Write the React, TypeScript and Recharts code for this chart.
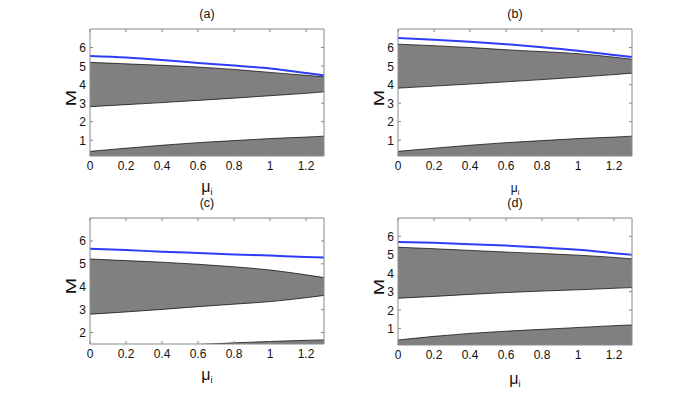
import React from 'react';
import { ComposedChart, Area, Line, XAxis, YAxis } from 'recharts';

// sample points along mu_i
const MU = [0, 0.2, 0.4, 0.6, 0.8, 1.0, 1.2, 1.3];
const X_TICKS = [0, 0.2, 0.4, 0.6, 0.8, 1, 1.2];

// panel (a)
const A_BLUE = [5.54, 5.46, 5.33, 5.17, 5.03, 4.87, 4.63, 4.5];
const A_TOP = [5.2, 5.12, 5.04, 4.95, 4.82, 4.66, 4.5, 4.42];
const A_BOT = [2.81, 2.92, 3.03, 3.15, 3.27, 3.4, 3.53, 3.61];
const A_LOW = [0.4, 0.57, 0.73, 0.87, 0.98, 1.09, 1.17, 1.22];

// panel (b)
const B_BLUE = [6.51, 6.42, 6.31, 6.18, 6.02, 5.83, 5.6, 5.49];
const B_TOP = [6.18, 6.1, 6.0, 5.88, 5.78, 5.67, 5.48, 5.37];
const B_BOT = [3.81, 3.92, 4.03, 4.15, 4.27, 4.4, 4.54, 4.62];
const B_LOW = [0.4, 0.57, 0.73, 0.87, 0.98, 1.09, 1.17, 1.22];

// panel (c)
const C_BLUE = [5.66, 5.6, 5.53, 5.47, 5.41, 5.36, 5.3, 5.28];
const C_TOP = [5.21, 5.14, 5.07, 4.98, 4.87, 4.73, 4.52, 4.4];
const C_BOT = [2.8, 2.9, 3.01, 3.13, 3.24, 3.35, 3.52, 3.62];
const C_LOW = [1.22, 1.32, 1.41, 1.48, 1.55, 1.61, 1.66, 1.68];

// panel (d)
const D_BLUE = [5.7, 5.65, 5.58, 5.5, 5.4, 5.27, 5.09, 5.0];
const D_TOP = [5.41, 5.33, 5.24, 5.15, 5.07, 4.98, 4.86, 4.78];
const D_BOT = [2.64, 2.74, 2.85, 2.95, 3.03, 3.1, 3.18, 3.22];
const D_LOW = [0.37, 0.57, 0.73, 0.85, 0.95, 1.05, 1.15, 1.19];

const Y_TICKS_FULL = [1, 2, 3, 4, 5, 6];
const Y_TICKS_C = [2, 3, 4, 5, 6];

const BOX = '#8a8a8a';
const FONT = '"Liberation Sans", Arial, sans-serif';

const BottomTick = ({ x, y, payload }: any) => (
  <g>
    <line x1={x} y1={y} x2={x} y2={y - 3} stroke={BOX} />
    <text x={x} y={y + 14} textAnchor="middle" fontSize={12} fill="#111" fontFamily={FONT}>
      {payload.value}
    </text>
  </g>
);

const TopTick = ({ x, y }: any) => <line x1={x} y1={y} x2={x} y2={y + 3} stroke={BOX} />;

const LeftTick = ({ x, y, payload }: any) => (
  <g>
    <line x1={x} y1={y} x2={x + 3} y2={y} stroke={BOX} />
    <text x={x - 4} y={y + 4.5} textAnchor="end" fontSize={12} fill="#111" fontFamily={FONT}>
      {payload.value}
    </text>
  </g>
);

const RightTick = ({ x, y }: any) => <line x1={x} y1={y} x2={x - 3} y2={y} stroke={BOX} />;

interface PanelProps {
  title: string;
  px: number;
  py: number;
  pw: number;
  ph: number;
  blue: number[];
  top: number[];
  bot: number[];
  low: number[];
  yMin: number;
  yTicks: number[];
  muSize: number;
  muY: number;
}

const Panel: React.FC<PanelProps> = ({ title, px, py, pw, ph, blue, top, bot, low, yMin, yTicks, muSize, muY }) => {
  const data = MU.map((x, i) => ({ x, band: [bot[i], top[i]], low: low[i], blue: blue[i] }));
  const cx = px + pw / 2;
  return (
    <>
      <div style={{ position: 'absolute', left: px - 40, top: py - 10 }}>
        <ComposedChart
          width={pw + 50}
          height={ph + 30}
          data={data}
          margin={{ top: 9, left: 20, right: 9, bottom: 5 }}
        >
          <XAxis
            dataKey="x"
            type="number"
            domain={[0, 1.3]}
            ticks={X_TICKS}
            interval={0}
            allowDataOverflow
            height={25}
            tickSize={0}
            tickMargin={0}
            tickLine={false}
            tick={<BottomTick />}
            axisLine={{ stroke: BOX }}
          />
          <XAxis
            xAxisId="top"
            orientation="top"
            dataKey="x"
            type="number"
            domain={[0, 1.3]}
            ticks={X_TICKS}
            interval={0}
            allowDataOverflow
            height={1}
            tickSize={0}
            tickMargin={0}
            tickLine={false}
            tick={<TopTick />}
            axisLine={{ stroke: BOX }}
          />
          <YAxis
            type="number"
            domain={[yMin, 7]}
            ticks={yTicks}
            interval={0}
            allowDataOverflow
            width={20}
            tickSize={0}
            tickMargin={0}
            tickLine={false}
            tick={<LeftTick />}
            axisLine={{ stroke: BOX }}
          />
          <YAxis
            yAxisId="r"
            orientation="right"
            type="number"
            domain={[yMin, 7]}
            ticks={yTicks}
            interval={0}
            allowDataOverflow
            width={1}
            tickSize={0}
            tickMargin={0}
            tickLine={false}
            tick={<RightTick />}
            axisLine={{ stroke: BOX }}
          />
          <Area
            type="monotone"
            dataKey="low"
            stroke="#000"
            strokeWidth={0.7}
            fill="#808080"
            fillOpacity={1}
            isAnimationActive={false}
            dot={false}
            activeDot={false}
          />
          <Area
            type="monotone"
            dataKey="band"
            stroke="#000"
            strokeWidth={0.7}
            fill="#808080"
            fillOpacity={1}
            isAnimationActive={false}
            dot={false}
            activeDot={false}
          />
          {/* invisible series so the top and right box axes get drawn */}
          <Line
            xAxisId="top"
            yAxisId="r"
            dataKey="blue"
            stroke="none"
            dot={false}
            activeDot={false}
            isAnimationActive={false}
          />
          <Line
            type="monotone"
            dataKey="blue"
            stroke="#2b3ef5"
            strokeWidth={2}
            dot={false}
            activeDot={false}
            isAnimationActive={false}
          />
        </ComposedChart>
      </div>
      <div style={{ position: 'absolute', left: cx, top: py - 22, transform: 'translateX(-50%)', fontSize: 12.5, whiteSpace: 'nowrap' }}>
        {title}
      </div>
      <div
        style={{
          position: 'absolute',
          left: px - 19,
          top: py + ph / 2,
          transform: 'translate(-50%, -50%) rotate(-90deg) scaleX(1.4)',
          fontSize: 14,
          lineHeight: 1,
        }}
      >
        M
      </div>
      <div style={{ position: 'absolute', left: cx, top: muY, transform: 'translate(-50%, -50%)', fontSize: muSize, whiteSpace: 'nowrap', lineHeight: 1 }}>
        μ<sub style={{ fontSize: muSize * 0.6, verticalAlign: '-0.35em' }}>i</sub>
      </div>
    </>
  );
};

export default function App() {
  return (
    <div style={{ position: 'absolute', left: 0, top: 0, width: 698, height: 399, background: '#fff', fontFamily: FONT, color: '#111' }}>
      <Panel title="(a)" px={90} py={29} pw={234} ph={137} blue={A_BLUE} top={A_TOP} bot={A_BOT} low={A_LOW} yMin={0.15} yTicks={Y_TICKS_FULL} muSize={16} muY={188} />
      <Panel title="(b)" px={398} py={29} pw={234} ph={137} blue={B_BLUE} top={B_TOP} bot={B_BOT} low={B_LOW} yMin={0.15} yTicks={Y_TICKS_FULL} muSize={12} muY={189} />
      <Panel title="(c)" px={90} py={218} pw={234} ph={136} blue={C_BLUE} top={C_TOP} bot={C_BOT} low={C_LOW} yMin={1.5} yTicks={Y_TICKS_C} muSize={16} muY={376} />
      <Panel title="(d)" px={398} py={218} pw={234} ph={137} blue={D_BLUE} top={D_TOP} bot={D_BOT} low={D_LOW} yMin={0.1} yTicks={Y_TICKS_FULL} muSize={16} muY={380} />
    </div>
  );
}
